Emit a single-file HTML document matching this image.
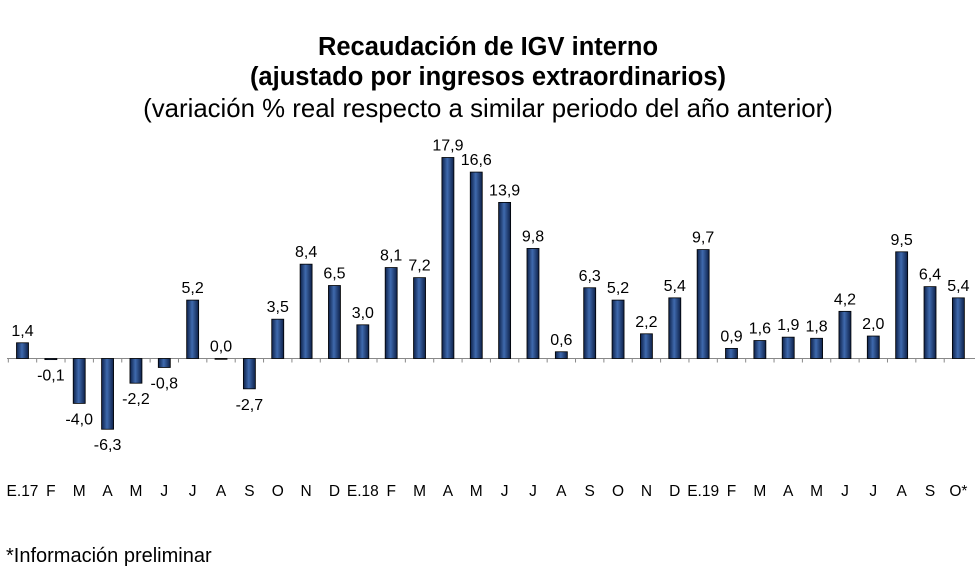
<!DOCTYPE html>
<html><head><meta charset="utf-8"><style>
body{margin:0;background:#fff;font-family:"Liberation Sans",sans-serif;}
</style></head><body>
<svg width="980" height="580" viewBox="0 0 980 580" style="display:block">
<defs><linearGradient id="g" x1="0" x2="1" y1="0" y2="0">
<stop offset="0" stop-color="#0d2048"/><stop offset="0.45" stop-color="#3f6aae"/><stop offset="1" stop-color="#0d2048"/></linearGradient></defs>
<text x="488" y="55" text-anchor="middle" font-size="25.5" font-weight="bold">Recaudación de IGV interno</text>
<text x="488" y="85" text-anchor="middle" font-size="25.5" font-weight="bold">(ajustado por ingresos extraordinarios)</text>
<text x="488" y="117" text-anchor="middle" font-size="25.8">(variación % real respecto a similar periodo del año anterior)</text>
<g id="plot"></g>
<text x="6" y="562" font-size="20">*Información preliminar</text>
</svg>
<script>
const categories=["E.17","F","M","A","M","J","J","A","S","O","N","D","E.18","F","M","A","M","J","J","A","S","O","N","D","E.19","F","M","A","M","J","J","A","S","O*"];
const values=[1.4,-0.1,-4.0,-6.3,-2.2,-0.8,5.2,0.0,-2.7,3.5,8.4,6.5,3.0,8.1,7.2,17.9,16.6,13.9,9.8,0.6,6.3,5.2,2.2,5.4,9.7,0.9,1.6,1.9,1.8,4.2,2.0,9.5,6.4,5.4];
const labels=["1,4","-0,1","-4,0","-6,3","-2,2","-0,8","5,2","0,0","-2,7","3,5","8,4","6,5","3,0","8,1","7,2","17,9","16,6","13,9","9,8","0,6","6,3","5,2","2,2","5,4","9,7","0,9","1,6","1,9","1,8","4,2","2,0","9,5","6,4","5,4"];
const NS="http://www.w3.org/2000/svg";
const g=document.getElementById('plot');
const x0=22.5, step=28.36, y0=358.5, k=11.23, bw=12;
const xs=i=>x0+i*step, ys=v=>y0-v*k;
function mk(t,a){const e=document.createElementNS(NS,t);for(const n in a)e.setAttribute(n,a[n]);g.appendChild(e);return e;}
const ax=mk('line',{x1:7,x2:975,y1:y0,y2:y0,stroke:'#888','stroke-width':1});


categories.forEach((c,i)=>{
  const tk=mk('line',{x1:xs(i)-step/2,x2:xs(i)-step/2,y1:y0,y2:y0+4,stroke:'#888'});
  
  
  const v=values[i];
  const top=Math.min(ys(v),y0), h=Math.max(Math.abs(v*k),0.8);
  const r=mk('rect',{x:xs(i)-bw/2,y:top,width:bw,height:h,fill:'url(#g)',stroke:'#000','stroke-width':0.8});
  
  
  const ly=v>=0?ys(v)-7:ys(v)+21;
  const t=mk('text',{x:xs(i),y:ly,'text-anchor':'middle','font-size':16});
  t.textContent=labels[i];
  
  
  const cl=mk('text',{x:xs(i),y:496,'text-anchor':'middle','font-size':15.5});
  cl.textContent=c;
  
  
});
</script>
</body></html>
